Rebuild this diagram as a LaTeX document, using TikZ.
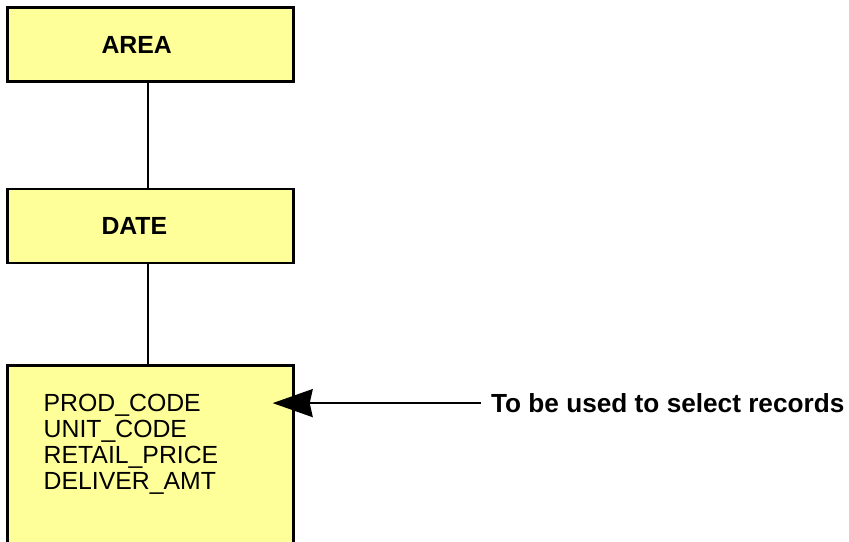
\documentclass[tikz,border=0pt]{standalone}
\usepackage{fontspec}
\setsansfont{Liberation Sans}
\usetikzlibrary{positioning, arrows.meta}
\definecolor{boxyellow}{RGB}{255,255,153}

\begin{document}
\begin{tikzpicture}[x=0.5pt, y=-0.5pt]
    % Define the styles for the boxes and lines
    \tikzset{
        entity/.style={rectangle, draw, line width=1.2pt, fill=boxyellow, minimum width=143pt, minimum height=37pt, text width=49pt, inner xsep=47pt, align=left, font=\sffamily\bfseries\fontsize{12.4}{13}\selectfont},
        factbox/.style={rectangle, draw, line width=1.2pt, fill=boxyellow, minimum width=143pt, minimum height=95pt},
        fields/.style={inner sep=0pt, align=left, anchor=north west, font=\sffamily\fontsize{12.4}{13}\selectfont},
        note/.style={inner xsep=5pt, inner ysep=2.5pt, anchor=west, font=\sffamily\bfseries\fontsize{13.1}{14}\selectfont},
        link/.style={line width=1pt}
    }

    \useasboundingbox (0,0) rectangle (849,541);

    % Draw the hierarchy boxes
    \node[entity] (area) at (150.5,44.5) {AREA};
    \node[entity, below=52.5pt of area] (date) {DATE};
    \node[factbox, below=50pt of date] (fact) {};

    % Draw the fields inside the lowest box
    \node[fields] at ([xshift=18.5pt, yshift=-15pt]fact.north west) (flds) {PROD\_CODE\\UNIT\_CODE\\RETAIL\_PRICE\\DELIVER\_AMT};

    % Draw the note and its arrow
    \node[note] at ([xshift=93pt, yshift=-19.5pt]fact.north east) (note) {To be used to select records};
    \coordinate (tip) at ([xshift=-11pt, yshift=-19.5pt]fact.north east);

    \draw[link] ([xshift=-1.5pt]area.south) -- ([xshift=-1.5pt]date.north);
    \draw[link] ([xshift=-1.5pt]date.south) -- ([xshift=-1.5pt]fact.north);
    \draw[link, -{Stealth[length=20pt, width=14pt, inset=1.5pt]}] (note) -- (tip);
\end{tikzpicture}
\end{document}
